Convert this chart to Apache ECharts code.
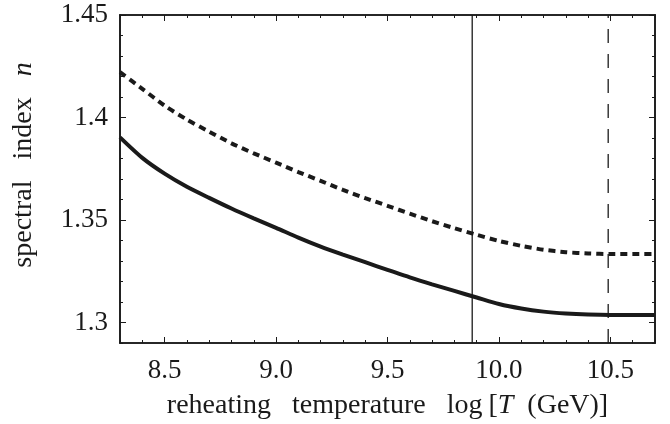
<!DOCTYPE html>
<html>
<head>
<meta charset="utf-8">
<script src="https://cdn.jsdelivr.net/npm/echarts@6/dist/echarts.min.js"></script>
<style>
  html, body { margin: 0; padding: 0; background: #fff; }
  #chart { width: 670px; height: 424px; }
</style>
</head>
<body>
<div id="chart"></div>
<script>
// log T (GeV) sample points
const logT = [8.3, 8.4, 8.5, 8.6, 8.7, 8.8, 8.9, 9.0, 9.1, 9.2, 9.3, 9.4, 9.5, 9.6, 9.7, 9.8, 9.9, 10.0, 10.1, 10.2, 10.3, 10.4, 10.5, 10.6, 10.7];
// solid curve
const nSolid = [1.3903, 1.3803, 1.3726, 1.3662, 1.3608, 1.3556, 1.3508, 1.3462, 1.3414, 1.3370, 1.3331, 1.3294, 1.3257, 1.3220, 1.3186, 1.3154, 1.3122, 1.3090, 1.3068, 1.3053, 1.3044, 1.3039, 1.3037, 1.3037, 1.3037];
// dotted curve
const nDotted = [1.4221, 1.4140, 1.4058, 1.3990, 1.3931, 1.3874, 1.3825, 1.3780, 1.3734, 1.3691, 1.3647, 1.3607, 1.3569, 1.3531, 1.3494, 1.3460, 1.3428, 1.3398, 1.3374, 1.3355, 1.3343, 1.3337, 1.3334, 1.3334, 1.3334];
// vertical marker lines
const solidMarkX = 9.88;
const dashedMarkX = 10.49;

const xMin = 8.3, xMax = 10.7;
const yMin = 1.29, yMax = 1.45;
const xMajor = [8.5, 9.0, 9.5, 10.0, 10.5];
const yMajor = [1.3, 1.35, 1.4, 1.45];

const xMinor = [];
for (let v = 83; v <= 107; v++) xMinor.push(v / 10);
const yMinor = [];
for (let v = 129; v <= 145; v++) yMinor.push(v / 100);

const ink = '#1a1a1a';
const font = 'Liberation Serif';

const chart = echarts.init(document.getElementById('chart'), null, { renderer: 'canvas' });

function tickAxis(base, ticks, len, extra) {
  return Object.assign({
    type: 'value',
    min: base === 'x' ? xMin : yMin,
    max: base === 'x' ? xMax : yMax,
    axisLine: { show: true, onZero: false, lineStyle: { color: ink, width: 1.6 } },
    axisTick: { show: true, inside: true, length: len, customValues: ticks, lineStyle: { color: ink, width: 1 } },
    axisLabel: { show: false },
    splitLine: { show: false }
  }, extra);
}

const option = {
  animation: false,
  backgroundColor: '#fff',
  grid: { left: 120, top: 15, width: 535, height: 328, containLabel: false, outerBoundsMode: 'none' },
  xAxis: [
    tickAxis('x', xMajor, 6, {
      position: 'bottom',
      axisLabel: {
        show: true, customValues: xMajor, margin: 14,
        color: ink, fontFamily: font, fontSize: 27,
        formatter: v => v.toFixed(1)
      },
      name: '{a|reheating   temperature   log}{b|[}{i|T}{a|  (GeV)]}',
      nameLocation: 'middle',
      nameGap: 49,
      nameTextStyle: {
        rich: {
          a: { fontFamily: font, fontSize: 28, color: ink },
          b: { fontFamily: font, fontSize: 28, color: ink, padding: [0, 0, 0, 6] },
          i: { fontFamily: font, fontSize: 28, color: ink, fontStyle: 'italic' }
        }
      }
    }),
    tickAxis('x', xMinor, 3, { position: 'bottom' }),
    tickAxis('x', xMajor, 6, { position: 'top' }),
    tickAxis('x', xMinor, 3, { position: 'top' })
  ],
  yAxis: [
    tickAxis('y', yMajor, 6, {
      position: 'left',
      axisLabel: {
        show: true, customValues: yMajor, margin: 12,
        color: ink, fontFamily: font, fontSize: 27,
        formatter: v => String(Math.round(v * 100) / 100)
      },
      name: '{a|spectral   index   }{i|n}',
      nameLocation: 'middle',
      nameGap: 82,
      nameTextStyle: {
        padding: [0, 0, 0, 28],
        rich: {
          a: { fontFamily: font, fontSize: 28, color: ink },
          i: { fontFamily: font, fontSize: 28, color: ink, fontStyle: 'italic' }
        }
      }
    }),
    tickAxis('y', yMinor, 3, { position: 'left' }),
    tickAxis('y', yMajor, 6, { position: 'right' }),
    tickAxis('y', yMinor, 3, { position: 'right' })
  ],
  series: [
    {
      type: 'line',
      data: logT.map((x, i) => [x, nSolid[i]]),
      smooth: 0.25,
      symbol: 'none',
      lineStyle: { color: ink, width: 4 }
    },
    {
      type: 'line',
      data: logT.map((x, i) => [x, nDotted[i]]),
      smooth: 0.25,
      symbol: 'none',
      lineStyle: { color: ink, width: 4, type: [7, 5], cap: 'butt' }
    },
    {
      type: 'line',
      data: [[solidMarkX, yMin], [solidMarkX, yMax]],
      symbol: 'none',
      lineStyle: { color: ink, width: 1.3 }
    },
    {
      type: 'line',
      data: [[dashedMarkX, yMin], [dashedMarkX, yMax]],
      symbol: 'none',
      lineStyle: { color: ink, width: 1.3, type: [14, 11] }
    }
  ]
};

chart.setOption(option);
</script>
</body>
</html>
